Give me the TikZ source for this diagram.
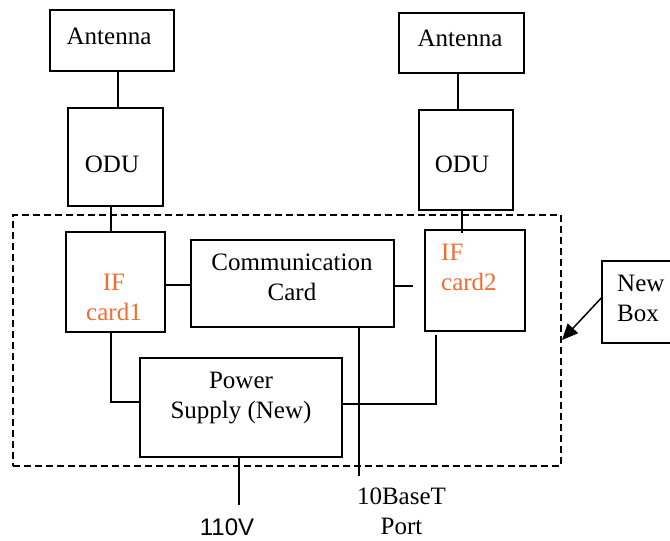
\documentclass[tikz,border=0pt]{standalone}
\usepackage{fontspec}
\setmainfont{Liberation Serif}
\newfontfamily\labelsans{Liberation Sans}
\usetikzlibrary{arrows.meta,calc}
\definecolor{iforange}{RGB}{242,108,48}
\tikzset{
  box/.style={draw=black, line width=1.5pt, inner sep=0pt},
  wire/.style={draw=black, line width=1.5pt},
  dashbox/.style={draw=black, line width=1.5pt, dash pattern=on 7pt off 4pt, inner sep=0pt},
  txt/.style={inner sep=0pt, align=center, font=\fontsize{25}{30}\selectfont},
}
\begin{document}
\begin{tikzpicture}[x=1pt,y=-1pt]
\useasboundingbox (0,0) rectangle (670,541);
% dashed enclosure
\node[dashbox, minimum width=548, minimum height=251] (encl) at (287,340.5) {};
% boxes
\node[box, minimum width=124, minimum height=61] (ant1) at (112,40.5) {};
\node[box, minimum width=95, minimum height=98] (odu1) at (115.5,157) {};
\node[box, minimum width=125, minimum height=60] (ant2) at (461.5,43) {};
\node[box, minimum width=94, minimum height=100] (odu2) at (466,160) {};
\node[box, minimum width=99, minimum height=100] (if1) at (115.5,282) {};
\node[box, minimum width=203, minimum height=87] (comm) at (292.5,283.5) {};
\node[box, minimum width=100, minimum height=101] (if2) at (475,280.5) {};
\node[box, minimum width=202, minimum height=99] (power) at (241,407.5) {};
\node[box, minimum width=73, minimum height=82] (newbox) at (638.5,302) {};
% texts
\node[txt] (ant1txt) at (109,36) {Antenna};
\node[txt] (ant2txt) at (460,38) {Antenna};
\node[txt] (odu1txt) at (112,164) {ODU};
\node[txt] (odu2txt) at (462,164) {ODU};
\node[txt, text=iforange] (if1txt) at (114,297.5) {IF\\card1};
\node[txt] (commtxt) at (292,277.5) {Communication\\Card};
\node[txt, anchor=west, align=left, text=iforange] (if2txt) at (441,267.5) {IF\\card2};
\node[txt] (powertxt) at (241,398) {Power\\Supply (New)};
\node[txt, anchor=west, align=left] (newtxt) at (617,298.5) {New\\Box};
% free ends
\coordinate (portend) at (359,476);
\coordinate (vend) at (239,505);
\coordinate (arrowtip) at (562,340);
% connectors
\draw[wire] ([xshift=6pt]ant1.south) -- ([xshift=6pt]ant1.south |- odu1.north);
\draw[wire] ([xshift=-4.5pt]odu1.south) -- ([xshift=-4.5pt]odu1.south |- if1.north);
\draw[wire] ([xshift=-3.5pt]ant2.south) -- ([xshift=-3.5pt]ant2.south |- odu2.north);
\draw[wire] ([xshift=-4pt]odu2.south) -- ([xshift=-4pt,yshift=-4pt]odu2.south |- if2.north);
\draw[wire] ([yshift=-3pt]if1.east) -- ([yshift=-3pt]if1.east -| comm.west);
\draw[wire, shorten >=11pt] ([yshift=-2.5pt]comm.east) -- ([yshift=-2.5pt]comm.east -| if2.west);
\draw[wire] ([xshift=-4.5pt]if1.south) |- ([yshift=5.5pt]power.west);
\draw[wire] ([xshift=-39pt,yshift=-3pt]if2.south) |- ([yshift=3.5pt]power.east);
\draw[wire, line width=1.8pt] (comm.south -| portend) -- (portend);
\draw[wire] (power.south -| vend) -- (vend);
\draw[wire, -{Triangle[length=16pt,width=14pt]}] ([yshift=4pt]newbox.west) -- (arrowtip);
% labels
\node[inner sep=0pt, font=\labelsans\fontsize{24}{30}\selectfont] (v110) at (227,527) {110V};
\node[txt] (port) at (401.5,511) {10BaseT\\Port};
\end{tikzpicture}
\end{document}
